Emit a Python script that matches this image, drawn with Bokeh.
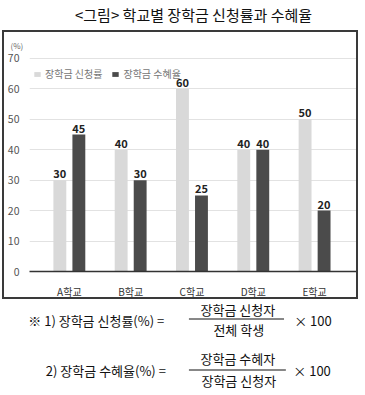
from bokeh.plotting import figure
from bokeh.layouts import column
from bokeh.models import Range1d, FixedTicker, Legend, LegendItem, Title, ColumnDataSource
from bokeh.core.properties import value
from bokeh.embed import file_html
from bokeh.resources import INLINE

# ---- data ----
schools = ["A학교", "B학교", "C학교", "D학교", "E학교"]
apply_rate = [30, 40, 60, 40, 50]     # 장학금 신청률
benefit_rate = [45, 30, 25, 40, 20]   # 장학금 수혜율
y_ticks = [0, 10, 20, 30, 40, 50, 60, 70]
series_names = ["장학금 신청률", "장학금 수혜율"]
title_text = "<그림> 학교별 장학금 신청률과 수혜율"

FONT = "Noto Sans CJK KR"
LIGHT = "#d9d9d9"
DARK = "#4b4b4b"

# ---- title figure ----
tf = figure(width=365, height=30, x_range=Range1d(0, 365), y_range=Range1d(30, 0),
            output_backend="svg", toolbar_location=None, min_border=0)
tf.axis.visible = False
tf.grid.visible = False
tf.outline_line_color = None
tf.text(x=[182], y=[14], text=[title_text], text_font=value(FONT), text_font_size="15px",
        text_align="center", text_baseline="middle", text_color="#111111")

# ---- chart figure ----
idx = list(range(len(schools)))
src = ColumnDataSource(dict(
    x1=[i - 0.155 for i in idx], x2=[i + 0.155 for i in idx],
    a=apply_rate, b=benefit_rate,
    la=[str(v) for v in apply_rate], lb=[str(v) for v in benefit_rate]))

p = figure(width=356, height=269, x_range=Range1d(-0.65, 4.7), y_range=Range1d(0, 72.6),
           output_backend="svg", toolbar_location=None,
           min_border_left=24, min_border_right=3, min_border_top=18, min_border_bottom=27,
           styles={"border": "2px solid #3a3a3a"}, margin=(0, 0, 0, 2))
p.outline_line_color = None

r1 = p.vbar(x="x1", top="a", width=0.21, source=src, fill_color=LIGHT, line_color=None)
r2 = p.vbar(x="x2", top="b", width=0.21, source=src, fill_color=DARK, line_color=None)

for xk, yk, lk in (("x1", "a", "la"), ("x2", "b", "lb")):
    p.text(x=xk, y=yk, text=lk, source=src, y_offset=-2, text_align="center",
           text_baseline="bottom", text_font=value(FONT), text_font_size="11px",
           text_font_style="bold", text_color="#222222")

p.xgrid.visible = False
p.ygrid.ticker = FixedTicker(ticks=y_ticks[1:])
p.ygrid.grid_line_color = "#e2e2e2"
p.ygrid.grid_line_width = 1

p.yaxis.ticker = FixedTicker(ticks=y_ticks)
p.yaxis.axis_line_color = None
p.yaxis.major_tick_line_color = None
p.yaxis.minor_tick_line_color = None
p.yaxis.major_label_standoff = 4
p.yaxis.major_label_text_font = FONT
p.yaxis.major_label_text_font_size = "10.5px"
p.yaxis.major_label_text_color = "#555555"

p.xaxis.ticker = FixedTicker(ticks=idx)
p.xaxis.major_label_overrides = {i: s for i, s in enumerate(schools)}
p.xaxis.axis_line_color = "#333333"
p.xaxis.axis_line_width = 1.5
p.xaxis.major_tick_line_color = None
p.xaxis.minor_tick_line_color = None
p.xaxis.major_label_standoff = 6
p.xaxis.major_label_text_font = FONT
p.xaxis.major_label_text_font_size = "10px"
p.xaxis.major_label_text_color = "#333333"

p.add_layout(Title(text="(%)", align="left", offset=-19, text_font=FONT, text_font_size="8px",
                   text_font_style="normal", text_color="#666666", standoff=0), "above")

legend = Legend(items=[LegendItem(label=series_names[0], renderers=[r1]),
                       LegendItem(label=series_names[1], renderers=[r2])],
                orientation="horizontal", location=(4, 190), padding=0, margin=0,
                spacing=9, glyph_width=8, glyph_height=6, label_standoff=4,
                label_text_font=FONT, label_text_font_size="10px", label_text_color="#777777",
                background_fill_alpha=0, border_line_color=None)
p.add_layout(legend)

# ---- formula figure ----
ff = figure(width=365, height=92, x_range=Range1d(0, 365), y_range=Range1d(92, 0),
            output_backend="svg", toolbar_location=None, min_border=0)
ff.axis.visible = False
ff.grid.visible = False
ff.outline_line_color = None

FS = "13px"
def t(x, y, s, align="left"):
    ff.text(x=[x], y=[y], text=[s], text_font=value(FONT), text_font_size=FS,
            text_align=align, text_baseline="middle", text_color="#111111")

t(3, 21, "※ 1) 장학금 신청률(%) =")
t(230, 10, "장학금 신청자", "center")
t(231, 30, "전체 학생", "center")
t(291, 21, "× 100")
ff.segment(x0=[177], y0=[19.5], x1=[280], y1=[19.5], line_color="#111111", line_width=1)

t(22, 71, "2) 장학금 수혜율(%) =")
t(230, 59, "장학금 수혜자", "center")
t(231, 81, "장학금 신청자", "center")
t(290, 71, "× 100")
ff.segment(x0=[177], y0=[70.5], x1=[282], y1=[70.5], line_color="#111111", line_width=1)

layout = column(tf, p, ff, spacing=0)
open("out.html", "w").write(file_html(layout, INLINE))
